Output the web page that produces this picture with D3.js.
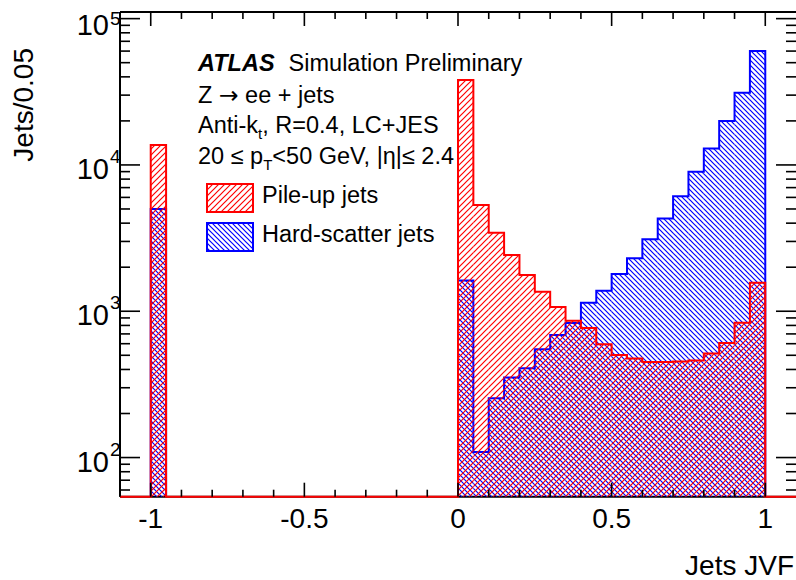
<!DOCTYPE html>
<html>
<head>
<meta charset="utf-8">
<script src="https://cdn.jsdelivr.net/npm/d3@7"></script>
<style>
  body { margin: 0; background: #fff; }
  svg { display: block; font-family: "Liberation Sans", Arial, Helvetica, sans-serif; }
</style>
</head>
<body>
<div id="chart"></div>
<script>
// JVF distributions, Z->ee + jets (ATLAS simulation)
// lower edges of the filled bins, each 0.05 wide
const binLow = [-1.0, 0.0, 0.05, 0.10, 0.15, 0.20, 0.25, 0.30, 0.35, 0.40, 0.45,
  0.50, 0.55, 0.60, 0.65, 0.70, 0.75, 0.80, 0.85, 0.90, 0.95];
const binWidth = 0.05;
const pileUp = [13680, 38000, 5320, 3440, 2420, 1770, 1360, 1070, 860, 767, 594,
  502, 475, 450, 450, 453, 460, 514, 606, 834, 1567];
const hardScatter = [4990, 1620, 109, 254, 353, 407, 549, 688, 830, 1143, 1380,
  1795, 2300, 3100, 4300, 6120, 8970, 12970, 19950, 31150, 60100];

const xTicks = [-1, -0.5, 0, 0.5, 1];
const xTickLabels = ['-1', '-0.5', '0', '0.5', '1'];
const xMinor = [-1.1, -0.9, -0.8, -0.7, -0.6, -0.4, -0.3, -0.2, -0.1,
  0.1, 0.2, 0.3, 0.4, 0.6, 0.7, 0.8, 0.9];
const yDecades = [100, 1000, 10000, 100000];
const yExponents = ['2', '3', '4', '5'];

const W = 796, H = 580;
const frame = {left: 120, right: 796, top: 12, bottom: 496.7};

const x = d3.scaleLinear().domain([-1.1, 1.1]).range([frame.left, frame.right]);
const y = d3.scaleLog().domain([54, 111000]).range([frame.bottom, frame.top]);

const svg = d3.select('#chart').append('svg')
  .attr('width', W).attr('height', H);

// hatch patterns (ROOT 3004 / 3005 look)
const defs = svg.append('defs');
function hatch(id, color, forward, s) {
  defs.append('pattern')
    .attr('id', id)
    .attr('patternUnits', 'userSpaceOnUse')
    .attr('width', s).attr('height', s)
    .append('path')
    .attr('d', forward
      ? `M0,${s} L${s},0 M-1,1 L1,-1 M${s - 1},${s + 1} L${s + 1},${s - 1}`
      : `M0,0 L${s},${s} M-1,${s - 1} L1,${s + 1} M${s - 1},-1 L${s + 1},1`)
    .attr('stroke', color)
    .attr('stroke-width', 1.2)
    .attr('fill', 'none');
}
hatch('hatchRed', '#ff0000', true, 6);
hatch('hatchBlue', '#0000ff', false, 5);

const yb = frame.bottom;

// frame lines under the histograms
svg.append('g')
  .attr('stroke', '#000').attr('stroke-width', 2).attr('fill', 'none')
  .selectAll('line')
  .data([
    [frame.left, frame.top, frame.left, frame.bottom],
    [frame.left, frame.top, frame.right, frame.top],
    [frame.left, frame.bottom, frame.right, frame.bottom]
  ])
  .join('line')
  .attr('x1', d => d[0]).attr('y1', d => d[1])
  .attr('x2', d => d[2]).attr('y2', d => d[3]);

function stepPath(values, fullRange) {
  let p = '';
  const eps = 1e-6;
  values.forEach((v, i) => {
    const lo = binLow[i], hi = lo + binWidth;
    const prevHi = i > 0 ? binLow[i - 1] + binWidth : null;
    const contiguousPrev = prevHi !== null && Math.abs(prevHi - lo) < eps;
    const nextLo = i < values.length - 1 ? binLow[i + 1] : null;
    const contiguousNext = nextLo !== null && Math.abs(nextLo - hi) < eps;
    if (i === 0) {
      p += fullRange ? `M${x(-1.1)},${yb} L${x(lo)},${yb}` : `M${x(lo)},${yb}`;
    } else if (!contiguousPrev) {
      p += fullRange ? ` L${x(lo)},${yb}` : ` M${x(lo)},${yb}`;
    }
    p += ` L${x(lo)},${y(v)} L${x(hi)},${y(v)}`;
    if (!contiguousNext) p += ` L${x(hi)},${yb}`;
  });
  if (fullRange) p += ` L${x(1.1)},${yb}`;
  return p;
}

function drawHist(values, pattern, color, fullRange) {
  const g = svg.append('g');
  g.selectAll('rect')
    .data(values)
    .join('rect')
    .attr('x', (d, i) => x(binLow[i]))
    .attr('width', (d, i) => x(binLow[i] + binWidth) - x(binLow[i]))
    .attr('y', d => y(d))
    .attr('height', d => yb - y(d))
    .attr('fill', `url(#${pattern})`);
  g.append('path')
    .attr('d', stepPath(values, fullRange))
    .attr('fill', 'none')
    .attr('stroke', color)
    .attr('stroke-width', 2);
}

drawHist(hardScatter, 'hatchBlue', '#0000ff', false);
drawHist(pileUp, 'hatchRed', '#ff0000', true);

// ticks
const ticks = svg.append('g').attr('stroke', '#000').attr('stroke-width', 1.6);
const majLenX = 14, minLenX = 7, majLenY = 20, minLenY = 10;
function tickSet(vals, len, horiz) {
  vals.forEach(v => {
    if (horiz) {
      const px = x(v);
      ticks.append('line').attr('x1', px).attr('x2', px).attr('y1', frame.bottom).attr('y2', frame.bottom - len);
      ticks.append('line').attr('x1', px).attr('x2', px).attr('y1', frame.top).attr('y2', frame.top + len);
    } else {
      const py = y(v);
      ticks.append('line').attr('y1', py).attr('y2', py).attr('x1', frame.left).attr('x2', frame.left + len);
      ticks.append('line').attr('y1', py).attr('y2', py).attr('x1', frame.right).attr('x2', frame.right - len);
    }
  });
}
tickSet(xTicks, majLenX, true);
tickSet(xMinor, minLenX, true);
tickSet(yDecades, majLenY, false);
const yMinor = [];
[10, 100, 1000, 10000].forEach(dec => {
  [2, 3, 4, 5, 6, 7, 8, 9].forEach(m => {
    const v = dec * m;
    if (v >= y.domain()[0] && v <= y.domain()[1]) yMinor.push(v);
  });
});
tickSet(yMinor, minLenY, false);

// tick labels
svg.append('g')
  .selectAll('text')
  .data(xTicks)
  .join('text')
  .attr('x', d => x(d))
  .attr('y', 528)
  .attr('text-anchor', 'middle')
  .attr('font-size', 28)
  .text((d, i) => xTickLabels[i]);

// top label is pushed down a little so it stays inside the canvas
const topShift = d => (d === 100000 ? 4 : 0);
const yl = svg.append('g');
yl.selectAll('text.base')
  .data(yDecades)
  .join('text')
  .attr('class', 'base')
  .attr('x', 109)
  .attr('y', d => y(d) + 14 + topShift(d) / 2)
  .attr('text-anchor', 'end')
  .attr('font-size', 29)
  .text('10');
yl.selectAll('text.exp')
  .data(yDecades)
  .join('text')
  .attr('class', 'exp')
  .attr('x', 110)
  .attr('y', d => y(d) - 2 + topShift(d) * 2)
  .attr('font-size', 19)
  .text((d, i) => yExponents[i]);

// axis titles
svg.append('text')
  .attr('transform', 'translate(33,48) rotate(-90)')
  .attr('text-anchor', 'end')
  .attr('font-size', 28)
  .text('Jets/0.05');
svg.append('text')
  .attr('x', 794).attr('y', 575)
  .attr('text-anchor', 'end')
  .attr('font-size', 28)
  .text('Jets JVF');

// labels
const fs = 23.5;
const atlas = svg.append('text').attr('x', 198).attr('y', 71).attr('font-size', fs);
atlas.append('tspan').attr('font-weight', 'bold').attr('font-style', 'italic').text('ATLAS');
atlas.append('tspan').attr('dx', 14).text('Simulation Preliminary');

const l2 = svg.append('text').attr('x', 198).attr('y', 103).attr('font-size', fs);
l2.append('tspan').text('Z ');
l2.append('tspan').attr('font-family', '"DejaVu Sans"').text('\u2192');
l2.append('tspan').text(' ee + jets');

const l3 = svg.append('text').attr('x', 198).attr('y', 133).attr('font-size', fs);
l3.append('tspan').text('Anti-k');
l3.append('tspan').attr('font-size', 15).attr('dy', 6).text('t');
l3.append('tspan').attr('dy', -6).text(', R=0.4, LC+JES');

const l4 = svg.append('text').attr('x', 198).attr('y', 164).attr('font-size', fs);
l4.append('tspan').text('20 \u2264 p');
l4.append('tspan').attr('font-size', 15).attr('dy', 6).text('T');
l4.append('tspan').attr('dy', -6).text('<50 GeV, |\u03b7|\u2264 2.4');

// legend
const legendItems = ['Pile-up jets', 'Hard-scatter jets'];
const legendPatterns = ['hatchRed', 'hatchBlue'];
const legendColors = ['#ff0000', '#0000ff'];
const lg = svg.append('g').selectAll('g')
  .data(legendItems)
  .join('g')
  .attr('transform', (d, i) => `translate(207,${184 + i * 39})`);
lg.append('rect')
  .attr('width', 46).attr('height', 28)
  .attr('fill', (d, i) => `url(#${legendPatterns[i]})`)
  .attr('stroke', (d, i) => legendColors[i])
  .attr('stroke-width', 2);
lg.append('text')
  .attr('x', 55).attr('y', 19)
  .attr('font-size', fs)
  .text(d => d);
</script>
</body>
</html>
